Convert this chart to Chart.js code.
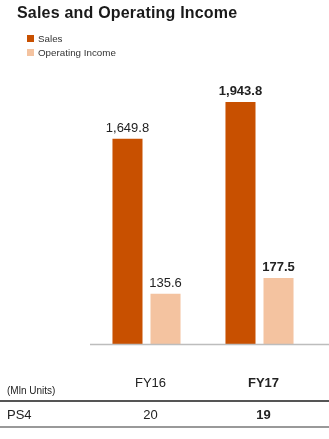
<!DOCTYPE html>
<html><head><meta charset="utf-8">
<script src="https://cdn.jsdelivr.net/npm/chart.js@4"></script>
<style>
html,body{margin:0;padding:0;background:#fff;}
body{width:329px;height:439px;position:relative;overflow:hidden;font-family:"Liberation Sans",Arial,sans-serif;color:#222;}
#c{position:absolute;left:0;top:0;}
#title{position:absolute;left:17px;top:4px;font-size:16px;letter-spacing:0.2px;font-weight:bold;color:#1a1a1a;white-space:nowrap;}
.leg{position:absolute;left:27px;font-size:9.8px;color:#333;white-space:nowrap;}
.leg span{display:inline-block;width:7px;height:7px;margin-right:4px;vertical-align:-0px;}
.t{position:absolute;white-space:nowrap;color:#222;}
.hl{position:absolute;left:0;width:329px;}
</style></head>
<body>
<canvas id="c" width="329" height="439"></canvas>
<div id="title">Sales and Operating Income</div>
<div id="legend"></div>
<div id="table"></div>
<script>
const categories = ["FY16", "FY17"];
const salesValues = [1649.8, 1943.8];
const opIncomeValues = [135.6, 177.5];
const seriesNames = ["Sales", "Operating Income"];
const seriesColors = ["#C85000", "#F4C3A0"];
const tableUnitLabel = "(Mln Units)";
const tableRowLabel = "PS4";
const ps4Units = [20, 19];
const boldIndex = 1;

// legend
const legend = document.getElementById('legend');
seriesNames.forEach((n, i) => {
  const d = document.createElement('div');
  d.className = 'leg';
  d.style.top = (33 + i * 14) + 'px';
  d.innerHTML = '<span style="background:' + seriesColors[i] + '"></span>' + n;
  legend.appendChild(d);
});

const fmt = v => v.toLocaleString('en-US', {minimumFractionDigits: 1, maximumFractionDigits: 1});

const labelPlugin = {
  id: 'labels',
  afterDatasetsDraw(chart) {
    const ctx = chart.ctx;
    ctx.save();
    ctx.textAlign = 'center';
    ctx.textBaseline = 'alphabetic';
    ctx.fillStyle = '#222';
    chart.data.datasets.forEach((ds, di) => {
      chart.getDatasetMeta(di).data.forEach((el, i) => {
        ctx.font = (i === boldIndex ? 'bold ' : '') + '13px "Liberation Sans", Arial, sans-serif';
        ctx.fillText(fmt(ds.data[i]), el.x, el.y - 7);
      });
    });
    // baseline axis line
    ctx.strokeStyle = '#bdbdbd';
    ctx.lineWidth = 1.5;
    ctx.beginPath();
    ctx.moveTo(chart.chartArea.left, chart.chartArea.bottom + 0.5);
    ctx.lineTo(chart.width, chart.chartArea.bottom + 0.5);
    ctx.stroke();
    ctx.restore();
  }
};

const chart = new Chart(document.getElementById('c'), {
  type: 'bar',
  data: {
    labels: categories,
    datasets: [
      {label: seriesNames[0], data: salesValues, backgroundColor: seriesColors[0], yAxisID: 'y',
       categoryPercentage: 0.673, barPercentage: 0.79},
      {label: seriesNames[1], data: opIncomeValues, backgroundColor: seriesColors[1], yAxisID: 'y2',
       categoryPercentage: 0.673, barPercentage: 0.79}
    ]
  },
  options: {
    responsive: false,
    devicePixelRatio: 1,
    animation: false,
    layout: {padding: {left: 90, right: 13, top: 60, bottom: 95}},
    plugins: {legend: {display: false}, tooltip: {enabled: false}},
    scales: {
      x: {display: false, offset: true},
      y: {display: false, min: 0, max: 2282},
      y2: {display: false, min: 0, max: 765}
    }
  },
  plugins: [labelPlugin]
});

// table
const table = document.getElementById('table');
function addText(txt, x, y, size, bold, center) {
  const d = document.createElement('div');
  d.className = 't';
  d.textContent = txt;
  d.style.fontSize = size + 'px';
  d.style.top = y + 'px';
  if (bold) d.style.fontWeight = 'bold';
  d.style.left = x + 'px';
  if (center) d.style.transform = 'translateX(-50%)';
  table.appendChild(d);
  return d;
}
const xs = chart.getDatasetMeta(0).data.map((el, i) => chart.scales.x.getPixelForValue(i));
addText(tableUnitLabel, 7, 385, 10, false, false);
categories.forEach((c, i) => addText(c, xs[i] + 4, 375, 13, i === boldIndex, true));
addText(tableRowLabel, 7, 407, 13, false, false);
ps4Units.forEach((v, i) => addText(String(v), xs[i] + 4, 407, 13, i === boldIndex, true));
const l1 = document.createElement('div'); l1.className = 'hl'; l1.style.top = '400px'; l1.style.height = '1.5px'; l1.style.background = '#555'; table.appendChild(l1);
const l2 = document.createElement('div'); l2.className = 'hl'; l2.style.top = '426px'; l2.style.height = '2px'; l2.style.background = '#999'; table.appendChild(l2);
</script>
</body></html>
